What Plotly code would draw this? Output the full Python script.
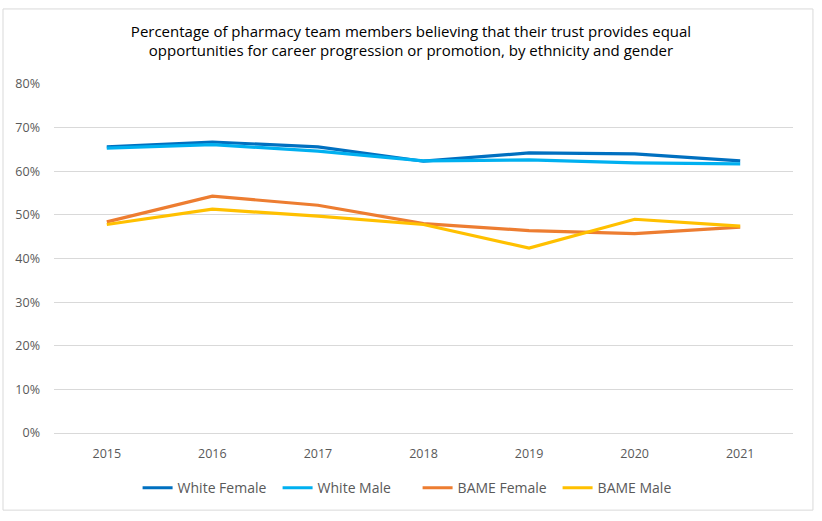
import plotly.graph_objects as go

years = ["2015", "2016", "2017", "2018", "2019", "2020", "2021"]

white_female = [65.6, 66.7, 65.6, 62.3, 64.2, 64.0, 62.4]
white_male = [65.3, 66.1, 64.6, 62.4, 62.6, 61.9, 61.7]
bame_female = [48.4, 54.3, 52.2, 48.0, 46.4, 45.7, 47.2]
bame_male = [47.8, 51.3, 49.7, 47.8, 42.4, 49.0, 47.4]

series = [
    ("White Female", white_female, "#0070C0"),
    ("White Male", white_male, "#00B0F0"),
    ("BAME Female", bame_female, "#ED7D31"),
    ("BAME Male", bame_male, "#FFC000"),
]

FONT = "Open Sans"

fig = go.Figure()
for name, vals, colour in series:
    fig.add_trace(go.Scatter(
        x=years,
        y=[v / 100 for v in vals],
        name=name,
        mode="lines",
        line=dict(color=colour, width=3.2),
    ))

fig.update_layout(
    width=822,
    height=521,
    margin=dict(l=54, r=29, t=84, b=88),
    paper_bgcolor="white",
    plot_bgcolor="white",
    font=dict(family=FONT, color="#595959", size=12),
    title=dict(
        text="Percentage of pharmacy team members believing that their trust provides equal<br>"
             "opportunities for career progression or promotion, by ethnicity and gender",
        x=0.5,
        xanchor="center",
        y=0.929,
        yanchor="middle",
        font=dict(family=FONT, size=15, color="#000000"),
    ),
    xaxis=dict(
        type="category",
        range=[-0.5, 6.5],
        showgrid=False,
        showline=True,
        linecolor="#D9D9D9",
        ticks="",
        ticklabelstandoff=9,
        tickfont=dict(size=12.5, color="#595959"),
    ),
    yaxis=dict(
        range=[0, 0.8],
        dtick=0.1,
        tickformat=".0%",
        showgrid=True,
        gridcolor="#D9D9D9",
        zeroline=False,
        ticks="",
        ticklabelstandoff=13,
        tickfont=dict(size=12.5, color="#595959"),
    ),
    legend=dict(
        orientation="h",
        x=0.492,
        xanchor="center",
        y=-0.158,
        yanchor="middle",
        font=dict(size=14, color="#595959"),
        itemwidth=30,
        entrywidth=95,
        tracegroupgap=0,
    ),
    shapes=[dict(
        type="rect",
        xref="paper", yref="paper",
        x0=-0.069, x1=1.027, y0=-0.221, y1=1.215,
        line=dict(color="#D9D9D9", width=1),
        layer="below",
    )],
)

fig.write_html(
    "out.html",
    config={"displayModeBar": False},
    post_script="document.body.style.margin='0';",
)
